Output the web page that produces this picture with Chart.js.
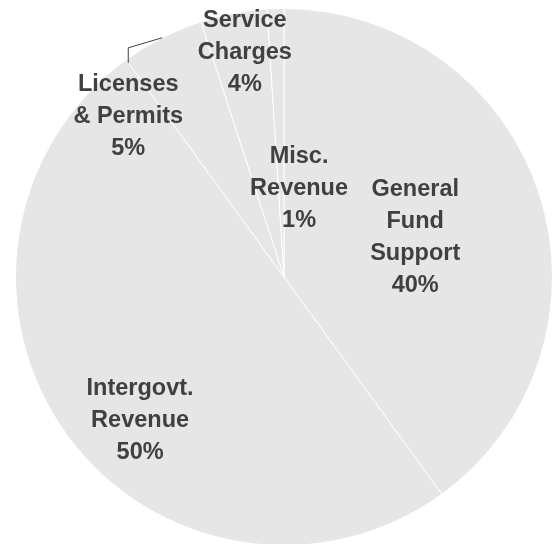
<!DOCTYPE html>
<html>
<head>
<meta charset="utf-8">
<title>Revenue sources</title>
<script src="https://cdn.jsdelivr.net/npm/chart.js@4/dist/chart.umd.min.js"></script>
<style>
  html, body { margin: 0; padding: 0; background: #ffffff; }
  #wrap { width: 560px; height: 544px; overflow: hidden; position: relative; }
  canvas { display: block; }
</style>
</head>
<body>
<div id="wrap"><canvas id="pie" width="560" height="560"></canvas></div>
<script>
// Revenue sources, clockwise from 12 o'clock
const categories = [
  ["General", "Fund", "Support"],
  ["Intergovt.", "Revenue"],
  ["Licenses", "& Permits"],
  ["Service", "Charges"],
  ["Misc.", "Revenue"]
];
const shares = [40, 50, 5, 4, 1]; // percent of total

// Where each caption sits: angle (deg, clockwise from top) and fraction of radius
const captionSpots = [
  { angle: 73.4, r: 0.51 },
  { angle: 225.0, r: 0.758 },
  { angle: 315.8, r: 0.832, leader: true },
  { angle: 350.1, r: 0.848 },
  { angle: 9.7, r: 0.333 }
];

const LINE_H = 32;
const FONT = 'bold 23.5px "Liberation Sans", Arial, Helvetica, sans-serif';
const INK = '#404040';

const captionPlugin = {
  id: 'captions',
  afterDatasetsDraw(chart) {
    const ctx = chart.ctx;
    const meta = chart.getDatasetMeta(0);
    const values = chart.data.datasets[0].data;
    ctx.save();
    ctx.font = FONT;
    ctx.fillStyle = INK;
    ctx.textAlign = 'center';
    ctx.textBaseline = 'middle';
    meta.data.forEach((arc, i) => {
      const spot = captionSpots[i];
      const R = arc.outerRadius;
      const a = spot.angle * Math.PI / 180;
      const cx = arc.x + spot.r * R * Math.sin(a);
      const cy = arc.y - spot.r * R * Math.cos(a);
      const lines = [].concat(chart.data.labels[i], values[i] + '%');
      const top = cy - (lines.length - 1) / 2 * LINE_H;
      lines.forEach((t, k) => ctx.fillText(t, cx, top + k * LINE_H));

      if (spot.leader) {
        // elbow line from the slice's outer edge down to the caption
        const mid = (arc.startAngle + arc.endAngle) / 2;
        const ex = arc.x + R * Math.cos(mid);
        const ey = arc.y + R * Math.sin(mid);
        ctx.beginPath();
        ctx.strokeStyle = INK;
        ctx.lineWidth = 1;
        ctx.moveTo(ex, ey);
        ctx.lineTo(cx, top - 37);
        ctx.lineTo(cx, top - 22);
        ctx.stroke();
      }
    });
    ctx.restore();
  }
};

new Chart(document.getElementById('pie'), {
  type: 'pie',
  data: {
    labels: categories,
    datasets: [{
      data: shares,
      backgroundColor: '#e6e6e6',
      borderColor: '#ffffff',
      borderWidth: 1
    }]
  },
  options: {
    responsive: false,
    animation: false,
    layout: { padding: { left: 15, right: 7, top: 8, bottom: 14 } },
    plugins: {
      legend: { display: false },
      tooltip: { enabled: false }
    }
  },
  plugins: [captionPlugin]
});
</script>
</body>
</html>
